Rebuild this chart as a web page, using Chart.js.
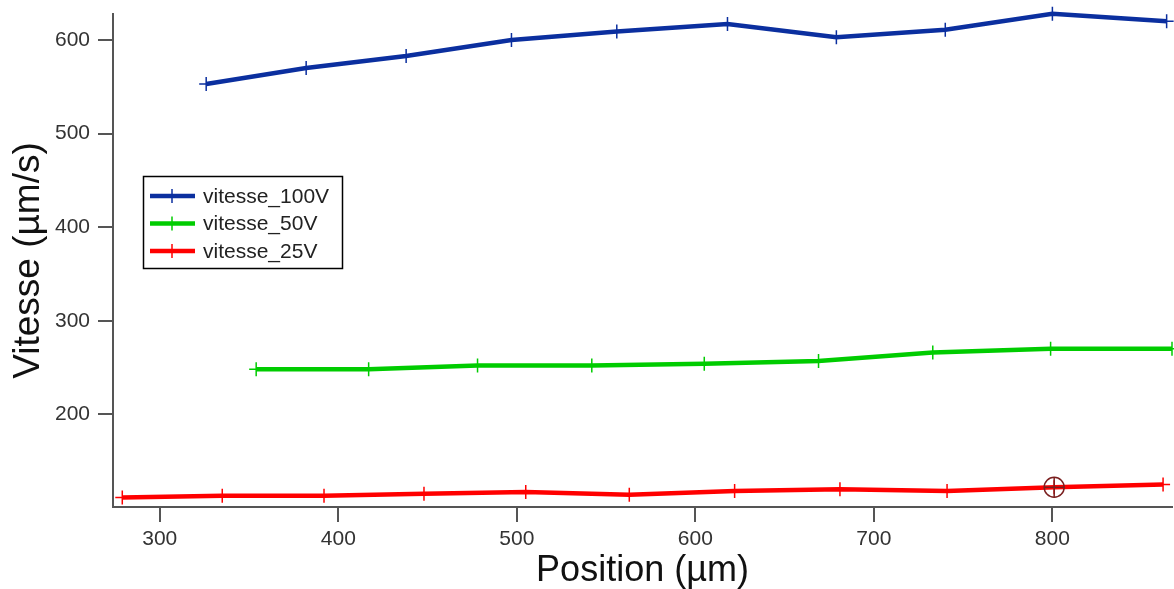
<!DOCTYPE html>
<html>
<head>
<meta charset="utf-8">
<script src="https://cdn.jsdelivr.net/npm/chart.js@4.4.0/dist/chart.umd.min.js"></script>
<style>
html, body { margin: 0; padding: 0; background: #fff; }
#wrap { width: 1174px; height: 589px; position: relative; }
</style>
</head>
<body>
<div id="wrap"><canvas id="chart"></canvas></div>
<script>
// values (position in µm, vitesse in µm/s)
var pos100 = [326, 382, 438, 497, 556, 618, 679, 740, 800, 864];
var vit100 = [553, 570, 583, 600, 609, 617, 603, 611, 628, 620];

var pos50 = [354, 417, 478, 542, 605, 669, 733, 799, 867];
var vit50 = [248, 248, 252, 252, 254, 257, 266, 270, 270];

var pos25 = [279, 335, 392, 448, 505, 563, 622, 681, 741, 801, 862];
var vit25 = [111, 113, 113, 115, 117, 114, 118, 120, 118, 122, 125];

var cursorX = [801];
var cursorY = [122];

var seriesNames = ['vitesse_100V', 'vitesse_50V', 'vitesse_25V'];
var seriesColors = ['#0b2f9f', '#00cc00', '#ff0000'];

var xTicks = [300, 400, 500, 600, 700, 800];
var yTicks = [200, 300, 400, 500, 600];

var FONT = '"Liberation Sans", Arial, sans-serif';

function toPoints(xs, ys) {
    return xs.map(function (x, i) { return { x: x, y: ys[i] }; });
}

function series(i, xs, ys) {
    return {
        label: seriesNames[i],
        data: toPoints(xs, ys),
        borderColor: seriesColors[i],
        backgroundColor: seriesColors[i],
        borderWidth: 4.5,
        pointStyle: 'cross',
        pointRadius: 7,
        pointBorderWidth: 1.5,
        pointBorderColor: seriesColors[i],
        tension: 0,
        fill: false,
        clip: 10,
        order: 1
    };
}

// legend box drawn inside the plot, like the original
var boxLegend = {
    id: 'boxLegend',
    afterDraw: function (chart) {
        var ctx = chart.ctx;
        ctx.save();
        ctx.strokeStyle = '#000';
        ctx.lineWidth = 1.5;
        ctx.strokeRect(143.5, 176.5, 199, 92);
        seriesNames.forEach(function (name, i) {
            var y = 196 + i * 27.5;
            ctx.strokeStyle = seriesColors[i];
            ctx.lineWidth = 4.5;
            ctx.beginPath();
            ctx.moveTo(150, y);
            ctx.lineTo(195, y);
            ctx.stroke();
            ctx.lineWidth = 1.5;
            ctx.beginPath();
            ctx.moveTo(172, y - 7);
            ctx.lineTo(172, y + 7);
            ctx.stroke();
            ctx.fillStyle = '#222';
            ctx.font = '21px ' + FONT;
            ctx.textBaseline = 'middle';
            ctx.fillText(name, 203, y + 1);
        });
        ctx.restore();
    }
};

var ctx = document.getElementById('chart').getContext('2d');
var chart = new Chart(ctx, {
    type: 'line',
    data: {
        datasets: [
            series(0, pos100, vit100),
            series(1, pos50, vit50),
            series(2, pos25, vit25),
            {
                type: 'scatter',
                data: toPoints(cursorX, cursorY),
                pointStyle: 'circle',
                pointRadius: 10,
                pointBorderWidth: 1.5,
                borderColor: '#7a1f1f',
                backgroundColor: 'rgba(0,0,0,0)',
                showLine: false,
                order: 0
            },
            {
                type: 'scatter',
                data: toPoints(cursorX, cursorY),
                pointStyle: 'cross',
                pointRadius: 10,
                pointBorderWidth: 1.5,
                borderColor: '#7a1f1f',
                showLine: false,
                order: 0
            }
        ]
    },
    options: {
        responsive: true,
        maintainAspectRatio: false,
        animation: false,
        layout: { autoPadding: false, padding: { top: 14, right: 2, left: 0, bottom: 0 } },
        plugins: {
            legend: { display: false },
            tooltip: { enabled: false }
        },
        scales: {
            x: {
                type: 'linear',
                min: 273.8,
                max: 867,
                afterBuildTicks: function (s) { s.ticks = xTicks.map(function (v) { return { value: v }; }); },
                afterFit: function (s) { s.height = 82; s.paddingLeft = 0; s.paddingRight = 0; },
                grid: { drawOnChartArea: false, drawTicks: true, tickLength: 15, color: '#555', lineWidth: 2 },
                border: { display: true, color: '#555', width: 2 },
                ticks: { font: { size: 21, family: FONT }, color: '#333', padding: 5, maxRotation: 0, autoSkip: false },
                title: {
                    display: true,
                    text: 'Position (µm)',
                    font: { size: 36, family: FONT, lineHeight: 1 },
                    color: '#111',
                    padding: { top: 0, bottom: 0 }
                }
            },
            y: {
                min: 100.9,
                max: 627.8,
                afterBuildTicks: function (s) { s.ticks = yTicks.map(function (v) { return { value: v }; }); },
                afterFit: function (s) { s.width = 113; s.paddingTop = 0; s.paddingBottom = 0; },
                grid: { drawOnChartArea: false, drawTicks: true, tickLength: 15, color: '#555', lineWidth: 2 },
                border: { display: true, color: '#555', width: 2 },
                ticks: { font: { size: 21, family: FONT }, color: '#333', padding: 8 },
                title: {
                    display: true,
                    text: 'Vitesse (µm/s)',
                    font: { size: 37, family: FONT, lineHeight: 1 },
                    color: '#111',
                    padding: { top: 10, bottom: 0 }
                }
            }
        }
    },
    plugins: [boxLegend]
});
</script>
</body>
</html>
